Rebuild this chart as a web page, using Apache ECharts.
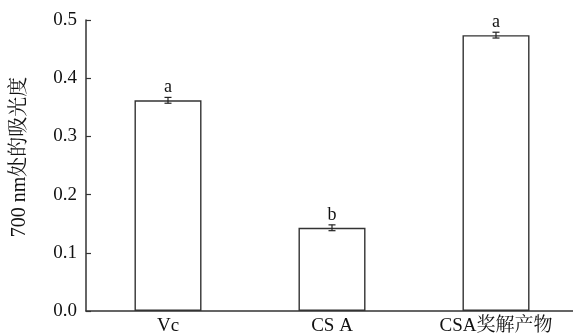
<!DOCTYPE html>
<html><head><meta charset="utf-8">
<script src="https://cdn.jsdelivr.net/npm/echarts@6/dist/echarts.min.js"></script>
<style>html,body{margin:0;padding:0;background:#fff}#c{width:573px;height:336px}</style>
</head><body><div id="c"></div>
<script>
var categories = ['Vc', 'CS A', 'CSA奖解产物'];
var values = [0.362, 0.143, 0.474];
var errors = [0.005, 0.005, 0.005];
var letters = ['a', 'b', 'a'];
var yTicks = [0.0, 0.1, 0.2, 0.3, 0.4, 0.5];
var yName = '700 nm处的吸光度';

var font = '"Liberation Serif","Noto Serif CJK SC","Noto Sans CJK SC",serif';
var chart = echarts.init(document.getElementById('c'), null, {renderer: 'canvas'});
var errData = values.map(function (v, i) { return [i, v, errors[i], letters[i]]; });
chart.setOption({
  animation: false,
  grid: {left: 86, right: -5, top: 20, bottom: 25, containLabel: false, outerBoundsMode: 'none'},
  graphic: [{
    type: 'text', x: 20, y: 157, rotation: Math.PI / 2,
    style: {text: yName, fill: '#111', font: '20px ' + font, textAlign: 'center', textVerticalAlign: 'middle'}
  }],
  xAxis: {
    type: 'category', data: categories,
    axisLine: {lineStyle: {color: '#333', width: 1.5}},
    axisTick: {inside: true, length: 7, lineStyle: {color: '#333', width: 1.2}},
    axisLabel: {color: '#111', fontFamily: font, fontSize: 19, margin: 6, hideOverlap: false}
  },
  yAxis: {
    type: 'value', min: yTicks[0], max: yTicks[yTicks.length - 1], interval: 0.1,
    splitLine: {show: false},
    axisLine: {show: true, lineStyle: {color: '#333', width: 1.5}},
    axisTick: {show: true, inside: true, length: 5, lineStyle: {color: '#333', width: 1.2}},
    axisLabel: {color: '#111', fontFamily: font, fontSize: 19, margin: 9,
      formatter: function (v) { return v.toFixed(1); }}
  },
  series: [{
    type: 'bar', data: values, barWidth: 67,
    itemStyle: {color: '#fff', borderColor: '#333', borderWidth: 1.4}
  }, {
    type: 'custom', data: errData, z: 10,
    renderItem: function (params, api) {
      var x = api.value(0), v = api.value(1), e = api.value(2);
      var top = api.coord([x, v + e]), bot = api.coord([x, v - e]);
      var hw = 3.5;
      var st = {stroke: '#222', lineWidth: 1.2};
      return {type: 'group', children: [
        {type: 'line', shape: {x1: top[0], y1: top[1], x2: bot[0], y2: bot[1]}, style: st},
        {type: 'line', shape: {x1: top[0] - hw, y1: top[1], x2: top[0] + hw, y2: top[1]}, style: st},
        {type: 'line', shape: {x1: bot[0] - hw, y1: bot[1], x2: bot[0] + hw, y2: bot[1]}, style: st},
        {type: 'text', x: top[0], y: top[1] - 1, style: {text: letters[params.dataIndex], fill: '#111',
          font: '18px ' + font, textAlign: 'center', textVerticalAlign: 'bottom'}}
      ]};
    }
  }]
});
</script></body></html>
